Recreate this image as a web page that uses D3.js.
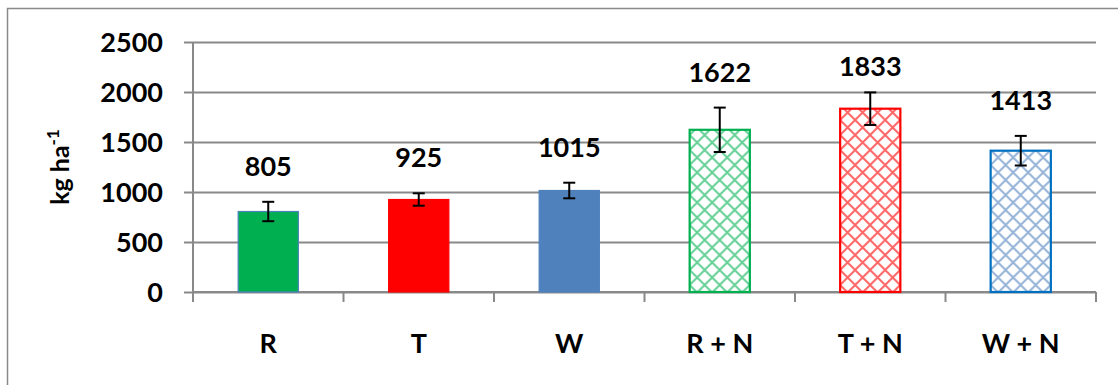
<!DOCTYPE html>
<html>
<head>
<meta charset="utf-8">
<script src="https://cdn.jsdelivr.net/npm/d3@7/dist/d3.min.js"></script>
<style>
  html, body { margin: 0; padding: 0; background: #fff; }
  svg { display: block; }
  text { font-family: Lato, "Open Sans", "Liberation Sans", sans-serif; font-weight: bold; fill: #000; }
</style>
</head>
<body>
<script>
// Treatments and yields (kg ha-1) with error bar half-widths
const categories = ["R", "T", "W", "R + N", "T + N", "W + N"];
const yields = [805, 925, 1015, 1622, 1833, 1413];
const errors = [97, 62, 78, 222, 163, 148];
const yTicks = [0, 500, 1000, 1500, 2000, 2500];

// Fill styling per treatment: solid for the base treatments, cross-hatched with nitrogen
const fills = ["#00B050", "#FF0000", "#4F81BD", "#00B050", "#FF0000", "#4F81BD"];
const strokes = ["#4F81BD", "#FF0000", "#4F81BD", "#00B050", "#FF0000", "#0070C0"];
const hatched = [false, false, false, true, true, true];

const W = 1118, H = 385;
const margin = { left: 193, right: 22, top: 42, bottom: 93 };
const FS = "27px";

const svg = d3.select("body").append("svg").attr("width", W).attr("height", H);

// Chart frame
svg.append("rect")
  .attr("x", 7.5).attr("y", 8.5)
  .attr("width", W + 10).attr("height", H + 10)
  .attr("fill", "none").attr("stroke", "#8a8a8a").attr("stroke-width", 1.5);

const x = d3.scaleBand().domain(categories)
  .range([margin.left, W - margin.right]).paddingInner(0.6).paddingOuter(0.3);
const y = d3.scaleLinear().domain([0, 2500]).range([H - margin.bottom, margin.top]);

// Cross-hatch patterns
const defs = svg.append("defs");
categories.forEach((c, i) => {
  if (!hatched[i]) return;
  const p = defs.append("pattern")
    .attr("id", "hatch" + i)
    .attr("patternUnits", "userSpaceOnUse")
    .attr("width", 15).attr("height", 15)
    .attr("x", x(c));
  p.append("rect").attr("width", 15).attr("height", 15).attr("fill", "#fff");
  p.append("path")
    .attr("d", "M0,0L15,15M15,0L0,15")
    .attr("stroke", fills[i]).attr("stroke-opacity", 0.6).attr("stroke-width", 2);
});

// Gridlines with short stubs left of the axis
const gridAxis = d3.axisLeft(y).tickValues(yTicks)
  .tickSize(-(W - margin.right - margin.left) - 9).tickFormat(d3.format("d"));
const gy = svg.append("g")
  .attr("transform", `translate(${margin.left - 9},0)`)
  .call(gridAxis);
gy.select(".domain").remove();
gy.selectAll(".tick line").attr("stroke", "#898989").attr("stroke-width", 2);
gy.selectAll(".tick text").attr("x", -21).attr("dy", "0.36em")
  .style("font-size", FS);

// Vertical axis line
svg.append("line")
  .attr("x1", margin.left).attr("x2", margin.left)
  .attr("y1", y(2500)).attr("y2", y(0) + 10)
  .attr("stroke", "#898989").attr("stroke-width", 2);

// Category axis with ticks between bars
const bandEdges = d3.range(categories.length + 1)
  .map(i => margin.left + i * (W - margin.right - margin.left) / categories.length);
svg.append("g").selectAll("line").data(bandEdges).join("line")
  .attr("x1", d => d).attr("x2", d => d)
  .attr("y1", y(0)).attr("y2", y(0) + 10)
  .attr("stroke", "#898989").attr("stroke-width", 2);
svg.append("line")
  .attr("x1", margin.left).attr("x2", W - margin.right)
  .attr("y1", y(0)).attr("y2", y(0))
  .attr("stroke", "#898989").attr("stroke-width", 2);

svg.append("g").selectAll("text").data(categories).join("text")
  .attr("x", d => x(d) + x.bandwidth() / 2)
  .attr("y", 353)
  .attr("text-anchor", "middle")
  .style("font-size", FS)
  .text(d => d);

// Bars
const bw = x.bandwidth();
svg.append("g").selectAll("rect").data(categories).join("rect")
  .attr("x", d => x(d))
  .attr("y", (d, i) => y(yields[i]))
  .attr("width", bw)
  .attr("height", (d, i) => y(0) - y(yields[i]))
  .attr("fill", (d, i) => hatched[i] ? `url(#hatch${i})` : fills[i])
  .attr("stroke", (d, i) => strokes[i])
  .attr("stroke-width", (d, i) => hatched[i] ? 2.2 : 1.2);

// Error bars
const eb = svg.append("g").attr("stroke", "#000").attr("stroke-width", 2);
categories.forEach((c, i) => {
  const cx = x(c) + bw / 2;
  const top = y(yields[i] + errors[i]), bot = y(yields[i] - errors[i]);
  eb.append("line").attr("x1", cx).attr("x2", cx).attr("y1", top).attr("y2", bot);
  eb.append("line").attr("x1", cx - 6).attr("x2", cx + 6).attr("y1", top).attr("y2", top);
  eb.append("line").attr("x1", cx - 6).attr("x2", cx + 6).attr("y1", bot).attr("y2", bot);
});

// Value labels above the error bars, kept clear of the top gridline
svg.append("g").selectAll("text").data(categories).join("text")
  .attr("x", d => x(d) + bw / 2)
  .attr("y", (d, i) => Math.max(y(yields[i] + errors[i]) - 26, y(2500) + 34))
  .attr("text-anchor", "middle")
  .style("font-size", FS)
  .text((d, i) => yields[i]);

// Y axis title
const yt = svg.append("text")
  .attr("transform", `translate(69,${(y(0) + y(2500)) / 2}) rotate(-90)`)
  .attr("text-anchor", "middle")
  .style("font-size", "25px");
yt.append("tspan").text("kg ha");
yt.append("tspan").attr("dy", -10).style("font-size", "17px").text("-1");
</script>
</body>
</html>
